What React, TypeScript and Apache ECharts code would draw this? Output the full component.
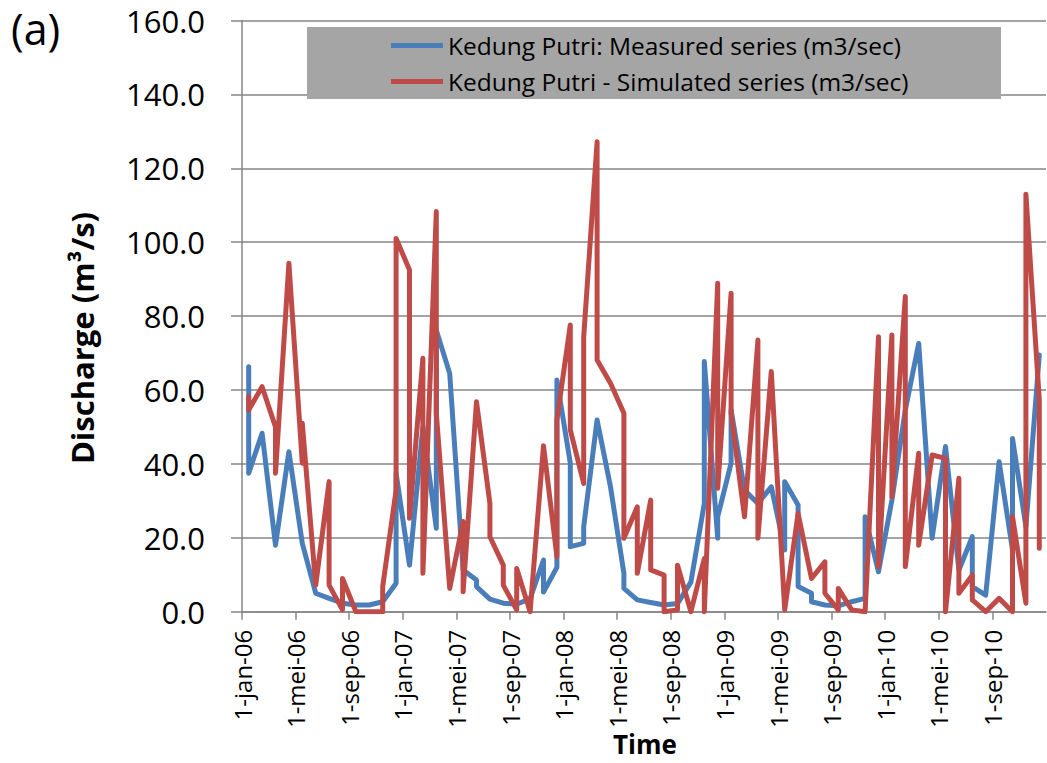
import React, { useEffect, useRef } from "react";
import * as echarts from "echarts";

// Dutch month abbreviations used for the tick labels
const monthNames = ["jan", "feb", "mrt", "apr", "mei", "jun", "jul", "aug", "sep", "okt", "nov", "dec"];
const startYear = 2006;
const monthCount = 60; // jan-2006 .. dec-2010
const tickStepMonths = 4;

// Values per month (jan-2006 = index 0); months with two readings list both in order
const measured: number[][] = [
  [66.3, 37.5], [48.3], [18.0], [43.3], [18.5], [5.0], [3.6], [2.3], [1.8], [1.8], [2.7], [7.7, 37.5],
  [12.6], [50.0], [22.6, 76.2], [64.5], [11.3], [8.6, 6.8], [3.4], [2.3], [2.0], [3.5], [14.0, 5.3], [12.0, 62.7],
  [40.2, 17.6], [18.5, 23.0], [51.9], [33.8], [10.4, 6.3], [3.2], [2.5], [1.8], [2.2], [8.0], [29.3, 67.7], [19.9, 25.7],
  [40.2, 54.6], [32.9], [29.3], [33.8], [16.7, 35.2], [28.9, 6.8], [5.0, 2.7], [1.8], [1.6], [2.7], [3.6, 25.7], [10.8],
  [30.2], [54.6], [72.6], [19.9], [44.7], [11.3], [20.3, 6.8], [4.5], [40.6], [16.7, 46.9], [23.0], [69.5],
];

const simulated: number[][] = [
  [58.2, 54.6], [60.9], [50.0, 37.5], [94.3], [40.2, 51.0], [7.2], [35.2, 7.2], [0.5, 9.0], [0], [0], [0, 6.8], [32.9, 101.0],
  [92.5, 25.3], [68.6, 10.4], [108.3, 53.7], [6.3], [24.4, 5.4], [56.8], [29.3, 20.3], [12.6, 7.2], [0.5, 11.7], [0], [44.9], [14.9, 51.9],
  [77.6, 49.2], [34.7, 74.4], [127.2, 68.1], [61.8], [53.7, 19.9], [28.4, 10.4], [30.2, 11.3], [9.9, 0], [0.5, 12.6], [0], [14.4, 0], [88.9, 33.4],
  [86.2, 53.7], [25.7], [73.5, 19.9], [65.0], [0.5], [26.6], [9.0], [13.5, 5.0], [0.5, 6.3], [0.5], [0], [74.4, 12.2],
  [74.9, 31.1], [85.3, 12.2], [42.9, 18.0], [42.4], [41.5, 0], [36.1, 5.0], [9.9, 3.2], [0], [3.6], [0, 25.7], [2.3, 113.0], [57.3, 17.2],
];

const seriesNames = [
  "Kedung Putri: Measured series (m3/sec)",
  "Kedung Putri - Simulated series (m3/sec)",
];
const yMin = 0;
const yMax = 160;
const yStep = 20;

const FONT = "'Open Sans', 'Noto Sans', sans-serif";

function toPoints(perMonth: number[][]): number[][] {
  const pts: number[][] = [];
  perMonth.forEach((vals, m) => {
    vals.forEach((v) => pts.push([m + 0.5, v]));
  });
  return pts;
}

function monthLabel(v: number): string {
  const m = Math.round(v);
  const yy = (startYear + Math.floor(m / 12)) % 100;
  return `1-${monthNames[m % 12]}-${String(yy).padStart(2, "0")}`;
}

export default function App() {
  const ref = useRef<HTMLDivElement>(null);

  useEffect(() => {
    if (!ref.current) return;
    const chart = echarts.init(ref.current, undefined, { renderer: "svg" });
    const axisGray = "#868686";
    const option: any = {
      animation: false,
      backgroundColor: "#ffffff",
      textStyle: { fontFamily: FONT },
      grid: {
        left: 242,
        right: 1,
        top: 20.5,
        bottom: 151.3,
        containLabel: false,
        outerBoundsMode: "none",
      },
      graphic: [
        {
          type: "rect",
          z: 3,
          shape: { x: 307, y: 27, width: 694, height: 72 },
          style: { fill: "#a5a5a5" },
        },
        {
          type: "text",
          left: 11,
          top: 7,
          style: { text: "(a)", font: `43px ${FONT}`, fill: "#000" },
        },
        {
          type: "text",
          x: 82,
          y: 338,
          rotation: Math.PI / 2,
          style: {
            text: "Discharge (m³/s)",
            font: `bold 31px ${FONT}`,
            fill: "#000",
            textAlign: "center",
            textVerticalAlign: "middle",
          },
        },
        {
          type: "text",
          x: 645,
          y: 744,
          style: {
            text: "Time",
            font: `bold 26px ${FONT}`,
            fill: "#000",
            textAlign: "center",
            textVerticalAlign: "middle",
          },
        },
      ],
      legend: {
        orient: "vertical",
        left: 391,
        top: 33,
        itemGap: 11,
        itemWidth: 52,
        itemHeight: 5,
        icon: "rect",
        padding: 0,
        z: 4,
        textStyle: { fontSize: 24.5, color: "#000", fontFamily: FONT },
        data: seriesNames,
      },
      xAxis: {
        type: "value",
        min: 0,
        max: monthCount,
        interval: tickStepMonths,
        axisLine: { show: true, lineStyle: { color: axisGray, width: 1.5 } },
        axisTick: { show: true, length: 8, lineStyle: { color: axisGray, width: 1.5 } },
        splitLine: { show: false },
        axisLabel: {
          rotate: 90,
          fontSize: 24,
          color: "#000",
          margin: 18,
          showMaxLabel: false,
          formatter: (v: number) => monthLabel(v),
        },
      },
      yAxis: {
        type: "value",
        min: yMin,
        max: yMax,
        interval: yStep,
        axisLine: { show: true, lineStyle: { color: axisGray, width: 1.5 } },
        axisTick: { show: true, length: 11, lineStyle: { color: axisGray, width: 1.5 } },
        splitLine: { show: true, lineStyle: { color: axisGray, width: 1.5 } },
        axisLabel: {
          fontSize: 31,
          color: "#000",
          margin: 37,
          formatter: (v: number) => v.toFixed(1),
        },
      },
      series: [
        {
          name: seriesNames[0],
          type: "line",
          data: toPoints(measured),
          symbol: "none",
          color: "#4a7ebb",
          lineStyle: { color: "#4a7ebb", width: 5, cap: "round", join: "round" },
          z: 2,
        },
        {
          name: seriesNames[1],
          type: "line",
          data: toPoints(simulated),
          symbol: "none",
          color: "#be4b48",
          lineStyle: { color: "#be4b48", width: 5, cap: "round", join: "round" },
          z: 2,
        },
      ],
    };
    chart.setOption(option);
    return () => chart.dispose();
  }, []);

  return (
    <div
      ref={ref}
      style={{ position: "fixed", left: 0, top: 0, width: 1047, height: 763, background: "#fff" }}
    />
  );
}
